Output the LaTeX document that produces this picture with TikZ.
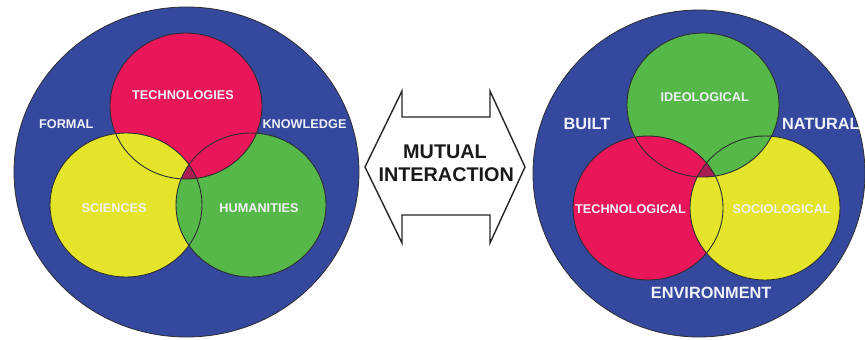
\documentclass[tikz,border=0pt]{standalone}
\usepackage{fontspec}
\setmainfont{Liberation Sans}
\definecolor{bgblue}{RGB}{52,73,158}
\definecolor{vred}{RGB}{233,22,90}
\definecolor{vyellow}{RGB}{228,228,42}
\definecolor{vgreen}{RGB}{86,184,72}
\definecolor{vmaroon}{RGB}{168,30,82}
\definecolor{labwhite}{RGB}{240,241,248}
\definecolor{edge}{RGB}{45,45,50}
\newcommand\pLT{(186,106) ellipse [x radius=76pt, y radius=73pt]}
\newcommand\pLS{(126,205) ellipse [x radius=76pt, y radius=72pt]}
\newcommand\pLH{(251,205) ellipse [x radius=75pt, y radius=72pt]}
\newcommand\pRI{(703,105) ellipse [x radius=76pt, y radius=72pt]}
\newcommand\pRT{(648,208) ellipse [x radius=75pt, y radius=72pt]}
\newcommand\pRS{(765,208) ellipse [x radius=75pt, y radius=72pt]}
\begin{document}
\begin{tikzpicture}[x=1pt,y=-1pt,
  lab/.style={text=labwhite,font=\bfseries\fontsize{12.7}{14}\selectfont,inner sep=0pt},
  biglab/.style={text=labwhite,font=\bfseries\fontsize{16.3}{18}\selectfont,inner sep=0pt},
  midlab/.style={text=black!90,font=\bfseries\fontsize{19.8}{23}\selectfont,inner sep=0pt},
  outline/.style={draw=edge,line width=0.9pt},
  arrowline/.style={draw=black!85,line width=1.4pt,fill=white,line join=miter}]
\useasboundingbox (0,0) rectangle (865,340);
\fill[white] (0,0) rectangle (865,340);
% big circles
\fill[bgblue,draw=edge,line width=0.8pt] (186.5,172) ellipse [x radius=172.5pt, y radius=165pt];
\fill[bgblue,draw=edge,line width=0.8pt] (699,173.5) ellipse [x radius=166pt, y radius=163.5pt];
% left venn
\fill[vred] \pLT;
\fill[vyellow] \pLS;
\fill[vgreen] \pLH;
\begin{scope}\clip \pLT; \fill[vred] \pLH; \end{scope}
\begin{scope}\clip \pLT; \clip \pLS; \fill[vmaroon] \pLH; \end{scope}
\draw[outline] \pLT; \draw[outline] \pLS; \draw[outline] \pLH;
% right venn
\fill[vgreen] \pRI;
\fill[vred] \pRT;
\fill[vyellow] \pRS;
\begin{scope}\clip \pRS; \fill[vgreen] \pRI; \end{scope}
\begin{scope}\clip \pRI; \clip \pRT; \fill[vmaroon] \pRS; \end{scope}
\draw[outline] \pRI; \draw[outline] \pRT; \draw[outline] \pRS;
% arrow
\path[arrowline] (365,167) -- (402,91) -- (402,117) -- (490,117) -- (490,91) -- (525,167) -- (490,243) -- (490,215) -- (402,215) -- (402,243) -- cycle;
% labels
\node[lab] (tech) at (183,94.7) {TECHNOLOGIES};
\node[lab] (formal) at (66.3,124.5) {FORMAL};
\node[lab] (know) at (304.5,124.5) {KNOWLEDGE};
\node[lab] (sci) at (114.2,208.3) {SCIENCES};
\node[lab] (hum) at (259,208.3) {HUMANITIES};
\node[lab] (ideo) at (704.7,96.7) {IDEOLOGICAL};
\node[biglab] (built) at (587,124) {BUILT};
\node[biglab] (natural) at (820.8,124) {NATURAL};
\node[lab] (techl) at (630.5,209.3) {TECHNOLOGICAL};
\node[lab] (socio) at (781.7,209.3) {SOCIOLOGICAL};
\node[biglab] (env) at (711.2,293.3) {ENVIRONMENT};
\node[midlab] (mutual) at (445,151.7) {MUTUAL};
\node[midlab] (inter) at (446.2,175) {INTERACTION};
\end{tikzpicture}
\end{document}
